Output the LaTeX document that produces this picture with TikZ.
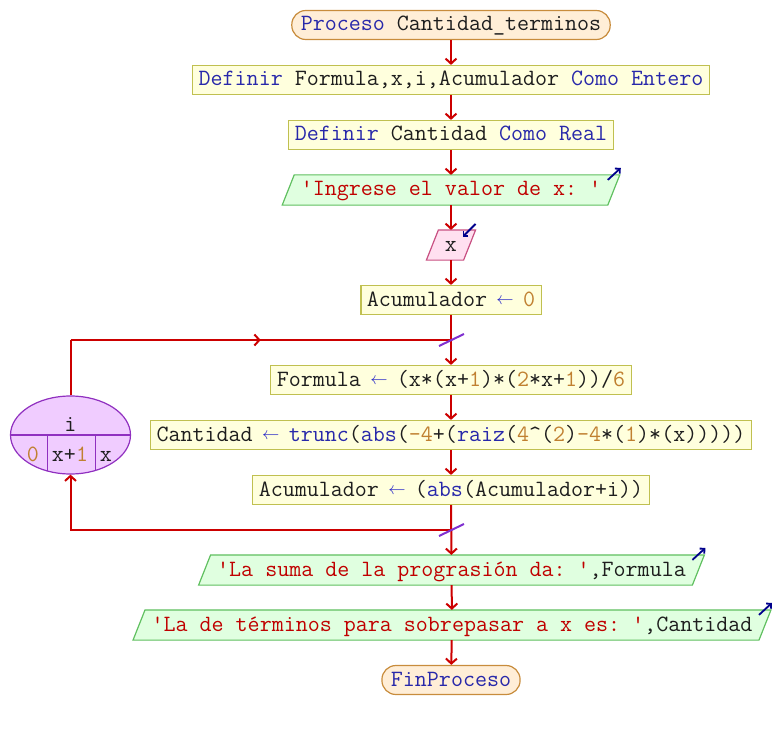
\documentclass[tikz,border=0pt]{standalone}
\usepackage{fontspec}
\usetikzlibrary{arrows.meta,calc,backgrounds,shapes.geometric,decorations.markings}
\definecolor{flowc}{RGB}{204,0,0}
\definecolor{asgf}{RGB}{255,255,221}
\definecolor{asgb}{RGB}{192,192,80}
\definecolor{termf}{RGB}{255,238,215}
\definecolor{termb}{RGB}{200,140,60}
\definecolor{outf}{RGB}{224,255,224}
\definecolor{outb}{RGB}{96,192,96}
\definecolor{inf}{RGB}{255,224,240}
\definecolor{inb}{RGB}{200,80,130}
\definecolor{loopf}{RGB}{240,204,255}
\definecolor{loopb}{RGB}{144,48,192}
\definecolor{slashc}{RGB}{128,48,208}
\definecolor{kwc}{RGB}{40,40,170}
\definecolor{idc}{RGB}{30,30,30}
\definecolor{numc}{RGB}{192,128,48}
\definecolor{strc}{RGB}{192,0,0}
\definecolor{arc}{RGB}{40,40,200}
\definecolor{iconc}{RGB}{0,0,140}
\newcommand\kw[1]{\textcolor{kwc}{#1}}
\newcommand\nm[1]{\textcolor{numc}{#1}}
\newcommand\st[1]{\textcolor{strc}{#1}}
\newcommand\ar{\textcolor{arc}{\makebox[12pt]{\raisebox{1.5pt}{\fontsize{17}{20}\selectfont$\leftarrow$}}}}
\newcommand\qq{\textquotesingle}
\newcommand\pgram[2]{%
  \begin{scope}[on background layer]
  \draw[#2] ($(#1.south west)+(-6,0)$) -- ($(#1.north west)+(6,0)$) -- ($(#1.north east)+(6,0)$) -- ($(#1.south east)+(-6,0)$) -- cycle;
  \end{scope}}
\tikzset{
  txt/.style={font=\ttfamily\fontsize{23.33}{26}\selectfont\frenchspacing, text=idc, text height=16pt, text depth=4pt},
  boxbase/.style={txt, inner ysep=0pt, minimum height=29pt, line width=1.2pt},
  asg/.style={boxbase, rectangle, draw=asgb, fill=asgf, inner xsep=6pt},
  term/.style={boxbase, rectangle, rounded corners=14pt, draw=termb, fill=termf, inner xsep=9pt},
  outp/.style={boxbase, rectangle, inner xsep=12pt},
  inp/.style={boxbase, rectangle, inner xsep=12pt},
  outshape/.style={draw=outb, fill=outf, line width=1.2pt},
  inshape/.style={draw=inb, fill=inf, line width=1.2pt},
  lbl/.style={txt, inner sep=0pt},
  flow/.style={draw=flowc, line width=2pt},
  tip/.style={-{Straight Barb[length=5pt,width=11pt]}},
  icon/.style={draw=iconc, line width=1.8pt, -{Straight Barb[length=3.5pt,width=7pt]}},
  slash/.style={draw=slashc, line width=2pt},
  midarrow/.style={postaction={decorate}, decoration={markings, mark=at position 0.5 with {\arrow[line width=2pt]{Straight Barb[length=5pt,width=11pt]}}}}
}
\begin{document}
\begin{tikzpicture}[x=1pt,y=-1pt]
\useasboundingbox (0,0) rectangle (773,730);

\node[term] (p0) at (451,25) {\kw{Proceso} Cantidad\_terminos};
\node[asg] (d1) at (451,80) {\kw{Definir} Formula,x,i,Acumulador \kw{Como} \kw{Entero}};
\node[asg] (d2) at (451,135) {\kw{Definir} Cantidad \kw{Como} \kw{Real}};
\node[outp] (o1) at (451,190) {\st{\qq Ingrese el valor de x: \qq}};
\pgram{o1}{outshape}
\node[inp] (i1) at (451,245) {x};
\pgram{i1}{inshape}
\node[asg] (a0) at (451,300) {Acumulador \ar{} \nm{0}};
\coordinate (j1) at (451,340);
\node[asg] (fo) at (451,380) {Formula \ar{} (x*(x+\nm{1})*(\nm{2}*x+\nm{1}))/\nm{6}};
\node[asg] (ca) at (451,435) {Cantidad \ar{} \kw{trunc}(\kw{abs}(\nm{-4}+(\kw{raiz}(\nm{4}\textasciicircum(\nm{2})\nm{-4}*(\nm{1})*(x)))))};
\node[asg] (ac) at (451,490) {Acumulador \ar{} (\kw{abs}(Acumulador+i))};
\coordinate (j2) at (451,530);
\node[outp] (o2) at (451.5,570) {\st{\qq La suma de la prograsión da: \qq},Formula};
\pgram{o2}{outshape}
\node[outp] (o3) at (452,625) {\st{\qq La de términos para sobrepasar a x es: \qq},Cantidad};
\pgram{o3}{outshape}
\node[term] (fin) at (451,680) {\kw{FinProceso}};

% loop ellipse
\node[ellipse, draw=loopb, fill=loopf, line width=1.2pt, minimum width=120pt, minimum height=78pt, inner sep=0pt] (lp) at (70.5,435) {};
\draw[loopb, line width=1.2pt] (lp.west) -- (lp.east);
\draw[loopb, line width=1.2pt] (47.5,435) -- (47.5,471);
\draw[loopb, line width=1.2pt] (95.5,435) -- (95.5,470.5);
\node[lbl] (lv) at (70.5,425) {i};
\node[lbl] (l0) at (33,455) {\nm{0}};
\node[lbl] (l1) at (70,455) {x+\nm{1}};
\node[lbl] (l2) at (106,455) {x};

% flow
\draw[flow,tip] (p0) -- (d1);
\draw[flow,tip] (d1) -- (d2);
\draw[flow,tip] (d2) -- (o1);
\draw[flow,tip] (o1) -- (i1);
\draw[flow,tip] (i1) -- (a0);
\draw[flow,tip] (a0) -- (fo);
\draw[flow,tip] (fo) -- (ca);
\draw[flow,tip] (ca) -- (ac);
\draw[flow,tip] (ac) -- (o2);
\draw[flow,tip] (o2) -- (o3);
\draw[flow,tip] (o3) -- (fin);
\draw[flow] (lp.north) -- (lp.north |- j1);
\draw[flow,midarrow] (lp.north |- j1) -- (j1);
\draw[flow,tip] (j2) -| (lp.south);

% junction slashes
\draw[slash] ($(j1)+(-12,6)$) -- ($(j1)+(13,-6)$);
\draw[slash] ($(j2)+(-12,6)$) -- ($(j2)+(13,-6)$);

% io icons
\draw[icon] ($(o1.north east)+(-6,5)$) -- ($(o1.north east)+(7,-7)$);
\draw[icon] ($(o2.north east)+(-6,5)$) -- ($(o2.north east)+(7,-7)$);
\draw[icon] ($(o3.north east)+(-6,5)$) -- ($(o3.north east)+(7,-7)$);
\draw[icon] ($(i1.north east)+(6,-6)$) -- ($(i1.north east)+(-7,7)$);
\end{tikzpicture}
\end{document}
